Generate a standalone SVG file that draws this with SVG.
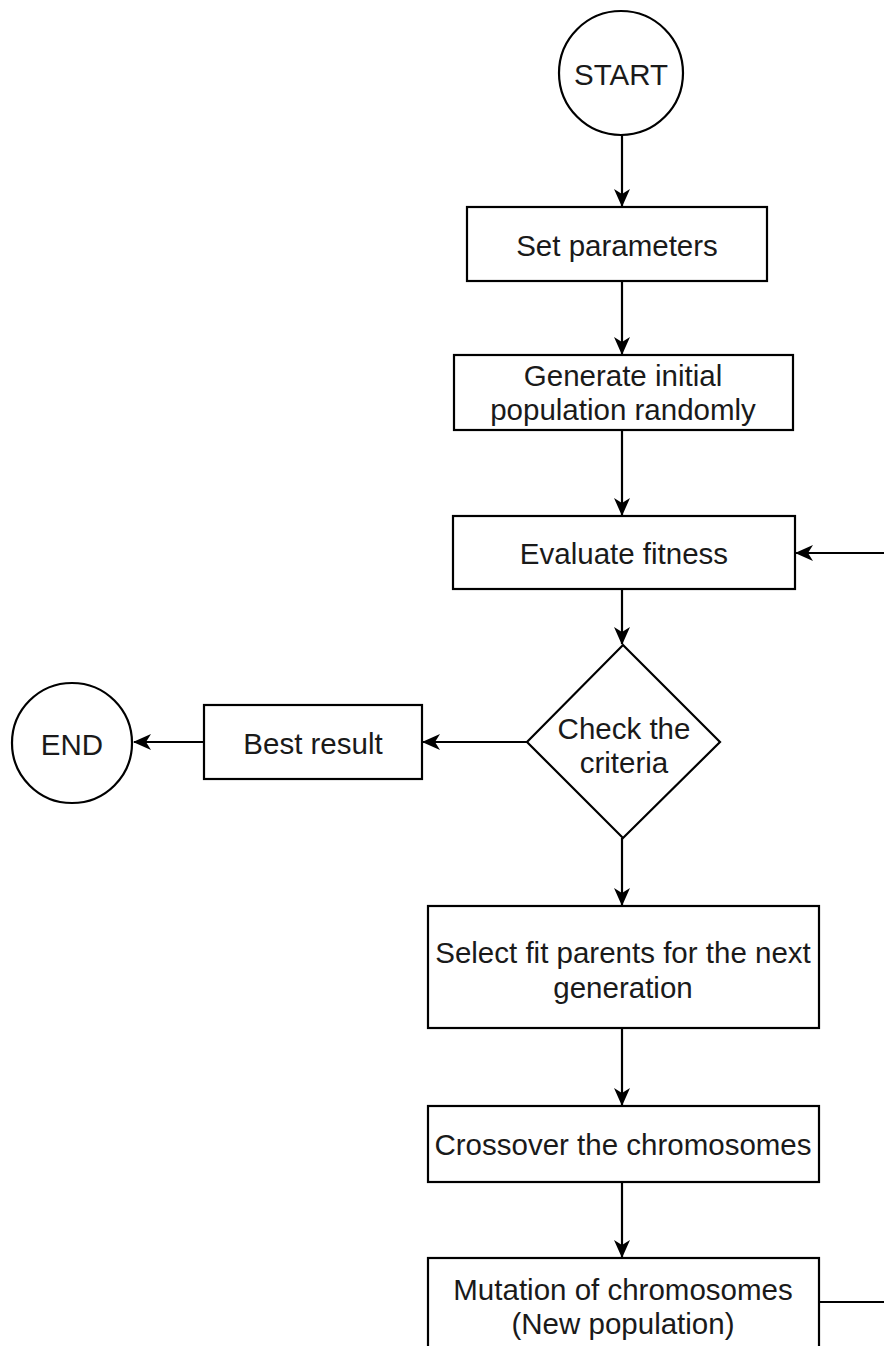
<svg xmlns="http://www.w3.org/2000/svg" width="884" height="1346" viewBox="0 0 884 1346">
<style>
.n{fill:#fff;stroke:#000;stroke-width:2.2}
.t{font-family:"Liberation Sans",Arial,sans-serif;font-size:29.5px;fill:#1a1a1a;text-anchor:middle;dominant-baseline:central}
.c{fill:none;stroke:#000;stroke-width:2.2}
</style>
<defs>
<marker id="ah" viewBox="0 0 18 16" refX="17" refY="8" markerWidth="18" markerHeight="16" markerUnits="userSpaceOnUse" orient="auto">
<path d="M0,0 L18,8 L0,16 L5,8 Z" fill="#000"/>
</marker>
</defs>
<rect width="884" height="1346" fill="#fff"/>
<g id="connectors">
<path class="c" d="M622,135 V206" marker-end="url(#ah)"/>
<path class="c" d="M622,281 V354" marker-end="url(#ah)"/>
<path class="c" d="M622,430 V515" marker-end="url(#ah)"/>
<path class="c" d="M622,589 V644" marker-end="url(#ah)"/>
<path class="c" d="M527,742 H423" marker-end="url(#ah)"/>
<path class="c" d="M204,742 H134" marker-end="url(#ah)"/>
<path class="c" d="M622,838 V905" marker-end="url(#ah)"/>
<path class="c" d="M622,1028 V1105" marker-end="url(#ah)"/>
<path class="c" d="M622,1182 V1257" marker-end="url(#ah)"/>
<path class="c" d="M820,1302 H900 V553 H796" marker-end="url(#ah)"/>
</g>
<g id="start">
<circle class="n" cx="621" cy="73" r="62"/>
<text class="t" x="621" y="74">START</text>
</g>
<g id="set-params">
<rect class="n" x="467" y="207" width="300" height="74"/>
<text class="t" x="617" y="245">Set parameters</text>
</g>
<g id="generate">
<rect class="n" x="454" y="355" width="339" height="75"/>
<text class="t" x="623" y="375">Generate initial</text>
<text class="t" x="623" y="409">population randomly</text>
</g>
<g id="evaluate">
<rect class="n" x="453" y="516" width="342" height="73"/>
<text class="t" x="624" y="553">Evaluate fitness</text>
</g>
<g id="check">
<polygon class="n" points="623,645 720,742 623,838 527,742"/>
<text class="t" x="624" y="728">Check the</text>
<text class="t" x="624" y="762">criteria</text>
</g>
<g id="best">
<rect class="n" x="204" y="705" width="218" height="74"/>
<text class="t" x="313" y="743">Best result</text>
</g>
<g id="end">
<circle class="n" cx="72" cy="743" r="60"/>
<text class="t" x="72" y="744">END</text>
</g>
<g id="select">
<rect class="n" x="428" y="906" width="391" height="122"/>
<text class="t" x="623" y="952">Select fit parents for the next</text>
<text class="t" x="623" y="987">generation</text>
</g>
<g id="crossover">
<rect class="n" x="428" y="1106" width="391" height="76"/>
<text class="t" x="623" y="1144">Crossover the chromosomes</text>
</g>
<g id="mutation">
<rect class="n" x="428" y="1258" width="391" height="100"/>
<text class="t" x="623" y="1289">Mutation of chromosomes</text>
<text class="t" x="623" y="1323">(New population)</text>
</g>
</svg>
